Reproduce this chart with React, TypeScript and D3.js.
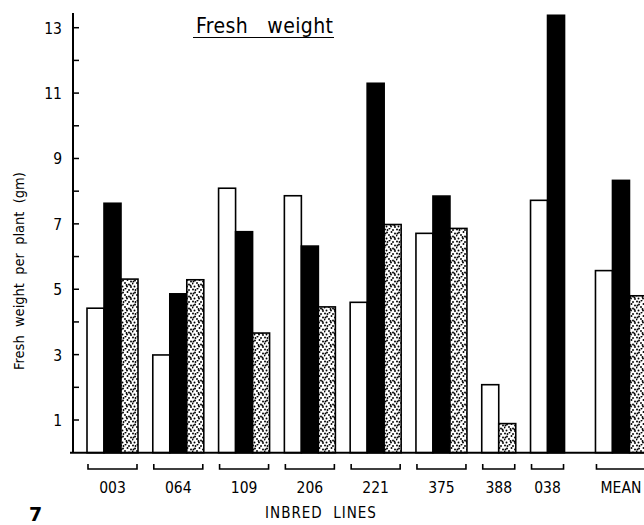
import { useEffect, useRef } from "react";
import * as d3 from "d3";

// inbred lines on the x axis
const lines = ["003", "064", "109", "206", "221", "375", "388", "038", "MEAN"];
// three series per line, null = no bar drawn
const seriesOpen = [4.42, 2.99, 8.09, 7.86, 4.6, 6.71, 2.08, 7.72, 5.57];
const seriesBlack = [7.63, 4.86, 6.76, 6.32, 11.3, 7.85, null, 13.38, 8.33];
const seriesDotted = [5.31, 5.29, 3.66, 4.46, 6.98, 6.86, 0.89, null, 4.8];
const yTicks = [1, 2, 3, 4, 5, 6, 7, 8, 9, 10, 11, 12, 13];
const yLabels = [1, 3, 5, 7, 9, 11, 13];

const FONT = "'DejaVu Sans Condensed', 'DejaVu Sans', sans-serif";

const App = () => {
  const svgRef = useRef(null);

  useEffect(() => {
    const W = 644;
    const H = 525;
    const svg = d3.select(svgRef.current).attr("width", W).attr("height", H);
    svg.selectAll("*").remove();

    ////////////////////// stipple pattern //////////////////////
    const defs = svg.append("defs");
    const T = 12;
    const pat = defs
      .append("pattern")
      .attr("id", "stipple")
      .attr("patternUnits", "userSpaceOnUse")
      .attr("width", T)
      .attr("height", T);
    pat.append("rect").attr("width", T).attr("height", T).attr("fill", "#fff");
    const dots = [
      [1, 1.5], [5.5, 0.5], [9, 2], [3, 4.5], [7.5, 4], [11, 5.5],
      [0.5, 7.5], [5, 7], [9, 8.5], [2.5, 10.5], [7, 10.5], [11, 11],
      [3.5, 2], [10.5, 9.5], [6.5, 9], [1.5, 5.5],
    ];
    dots.forEach(([cx, cy]) =>
      pat.append("circle").attr("cx", cx).attr("cy", cy).attr("r", 0.95).attr("fill", "#000")
    );

    ////////////////////// scales //////////////////////
    const y = d3.scaleLinear().domain([0, 13.45]).range([452.7, 13]);
    // x in "bar units": one bar is one unit wide
    const x = d3.scaleLinear().domain([0, 1]).range([87, 104]);
    const gap = 0.87;

    const series = [
      { values: seriesOpen, fill: "#fff" },
      { values: seriesBlack, fill: "#000" },
      { values: seriesDotted, fill: "url(#stipple)" },
    ];

    const groups = [];
    let pos = 0;
    lines.forEach((name, i) => {
      if (name === "MEAN") pos += 0.95;
      const bars = [];
      series.forEach((s) => {
        if (s.values[i] != null) bars.push({ value: s.values[i], fill: s.fill });
      });
      bars.forEach((b, k) => (b.pos = pos + k));
      groups.push({ name, start: pos, end: pos + bars.length, bars });
      pos += bars.length + gap;
    });

    const allBars = groups.flatMap((g) => g.bars);

    svg
      .append("g")
      .selectAll("rect")
      .data(allBars)
      .enter()
      .append("rect")
      .attr("x", (d) => x(d.pos))
      .attr("y", (d) => y(d.value))
      .attr("width", x(1) - x(0))
      .attr("height", (d) => y(0) - y(d.value))
      .attr("fill", (d) => d.fill)
      .attr("stroke", "#000")
      .attr("stroke-width", 1.6);

    ////////////////////// axes //////////////////////
    svg
      .append("line")
      .attr("x1", 70)
      .attr("x2", W)
      .attr("y1", y(0))
      .attr("y2", y(0))
      .attr("stroke", "#000")
      .attr("stroke-width", 2);

    svg
      .append("line")
      .attr("x1", 73)
      .attr("x2", 73)
      .attr("y1", y.range()[1])
      .attr("y2", y(0))
      .attr("stroke", "#000")
      .attr("stroke-width", 2);

    svg
      .append("g")
      .selectAll("line")
      .data(yTicks)
      .enter()
      .append("line")
      .attr("x1", 73)
      .attr("x2", 79)
      .attr("y1", (d) => y(d))
      .attr("y2", (d) => y(d))
      .attr("stroke", "#000")
      .attr("stroke-width", 1.5);

    svg
      .append("g")
      .selectAll("text")
      .data(yLabels)
      .enter()
      .append("text")
      .attr("x", 62)
      .attr("y", (d) => y(d) + 6)
      .attr("text-anchor", "end")
      .attr("font-family", FONT)
      .style("font-stretch", "condensed")
      .attr("font-size", 15.5)
      .text((d) => d);

    ////////////////////// brackets + labels //////////////////////
    const br = svg.append("g");
    groups.forEach((g) => {
      const x0 = x(g.start) + 1;
      const x1 = x(g.end) - 1;
      br.append("path")
        .attr("d", `M${x0},464 L${x0},469 L${x1},469 L${x1},464`)
        .attr("fill", "none")
        .attr("stroke", "#000")
        .attr("stroke-width", 1.6);
      br.append("text")
        .attr("x", (x(g.start) + x(g.end)) / 2)
        .attr("y", 493)
        .attr("text-anchor", "middle")
        .attr("font-family", FONT)
        .style("font-stretch", "condensed")
        .attr("font-size", 15.5)
        .text(g.name);
    });

    ////////////////////// texts //////////////////////
    svg
      .append("text")
      .attr("x", 321)
      .attr("y", 518)
      .attr("text-anchor", "middle")
      .attr("font-family", FONT)
      .style("font-stretch", "condensed")
      .attr("font-size", 15)
      .attr("letter-spacing", 1)
      .style("white-space", "pre")
      .text("INBRED  LINES");

    svg
      .append("text")
      .attr("x", 29)
      .attr("y", 521)
      .attr("font-family", "'DejaVu Sans', sans-serif")
      .attr("font-weight", "bold")
      .attr("font-size", 19)
      .text("7");

    svg
      .append("text")
      .attr("x", 196)
      .attr("y", 33)
      .attr("font-family", FONT)
      .style("font-stretch", "condensed")
      .attr("font-size", 21)
      .attr("letter-spacing", 0.4)
      .style("white-space", "pre")
      .text("Fresh   weight");
    svg
      .append("line")
      .attr("x1", 193)
      .attr("x2", 334)
      .attr("y1", 37.5)
      .attr("y2", 37.5)
      .attr("stroke", "#000")
      .attr("stroke-width", 1.2);

    svg
      .append("text")
      .attr("transform", "translate(24,271) rotate(-90)")
      .attr("text-anchor", "middle")
      .attr("font-family", FONT)
      .style("font-stretch", "condensed")
      .attr("font-size", 14.5)
      .style("white-space", "pre")
      .text("Fresh  weight  per  plant  (gm)");
  }, []);

  return (
    <svg
      ref={svgRef}
      style={{ position: "absolute", left: 0, top: 0, display: "block", background: "#fff" }}
    ></svg>
  );
};

export default App;
